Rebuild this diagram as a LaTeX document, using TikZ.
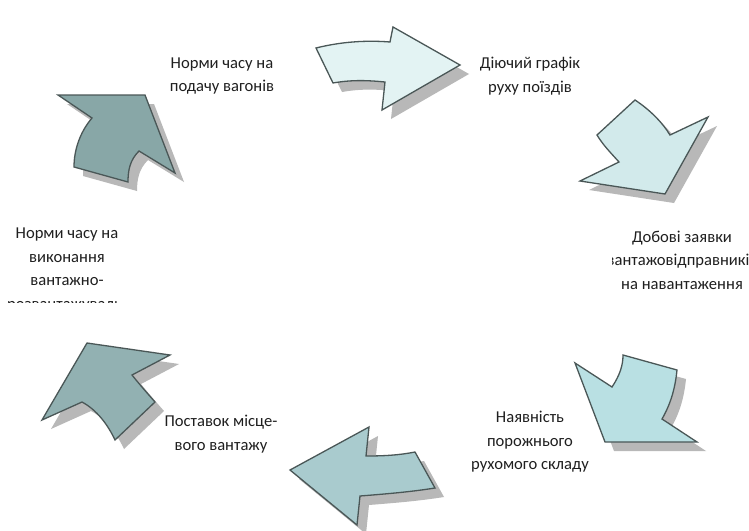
\documentclass[tikz,border=0pt]{standalone}
\usepackage{fontspec}
\setmainfont{Carlito}
\begin{document}
\begin{tikzpicture}[x=1pt,y=-1pt,
  arr/.style={draw=edgec,line width=1.3pt,line join=miter},
  shad/.style={fill=black!28,draw=none},
  lbl/.style={align=center,font=\fontsize{16.6}{23.5}\selectfont,inner sep=0pt,text=black!88}]
\definecolor{edgec}{HTML}{4A5757}
\definecolor{ca}{HTML}{E3F3F3}
\definecolor{cb}{HTML}{D2EAEB}
\definecolor{cc}{HTML}{B9E0E3}
\definecolor{cd}{HTML}{A9CBCE}
\definecolor{ce}{HTML}{92B1B2}
\definecolor{cf}{HTML}{88A7A7}
\useasboundingbox[fill=white] (0,0) rectangle (749,530);
\begin{scope}
\clip (0,0) rectangle (749,530);
\def\pa{(316,48) .. controls (340,42) and (365,40) .. (390,42) -- (393,27) -- (460,65) -- (382,110) -- (385,82) .. controls (365,80) and (350,80) .. (333,83) -- cycle}
\def\pb{(635,100) .. controls (650,110) and (662,122) .. (670,135) -- (708,117) -- (665,194) -- (580,181) -- (619,162) .. controls (610,152) and (603,145) .. (597,135) -- cycle}
\def\pc{(575,363) -- (612,387) .. controls (620,375) and (623,365) .. (623,355) -- (677,370) .. controls (675,390) and (670,405) .. (662,419) -- (697,442) -- (605,442) -- cycle}
\def\pd{(290,470) -- (369,427) -- (366,456) .. controls (385,456) and (400,455) .. (415,452) -- (435,488) .. controls (410,492) and (385,494) .. (360,496) -- (357,525) -- cycle}
\def\pe{(87,343) -- (170,355) -- (132,375) .. controls (140,385) and (148,394) .. (155,402) -- (115,440) .. controls (108,425) and (97,410) .. (82,402) -- (42,420) -- cycle}
\def\pf{(58,95) -- (145,95) -- (175,173) -- (139,151) .. controls (130,160) and (128,170) .. (128,182) -- (74,167) .. controls (74,150) and (80,132) .. (92,118) -- cycle}
\begin{scope}[shift={(9,9)}]
\fill[shad] \pa; \fill[shad] \pb; \fill[shad] \pc;
\fill[shad] \pd; \fill[shad] \pe; \fill[shad] \pf;
\end{scope}
\filldraw[arr,fill=ca] \pa;
\filldraw[arr,fill=cb] \pb;
\filldraw[arr,fill=cc] \pc;
\filldraw[arr,fill=cd] \pd;
\filldraw[arr,fill=ce] \pe;
\filldraw[arr,fill=cf] \pf;
% labels
\node[lbl] (t1) at (222,76) {Норми часу на\\подачу вагонів};
\node[lbl] (t2) at (530,76) {Діючий графік\\руху поїздів};
\begin{scope}
\clip (612,200) rectangle (749,300);
\node[lbl] (t3) at (682,260) {Добові заявки\\вантажовідправників\\на навантаження};
\end{scope}
\node[lbl] (t4) at (530,442) {Наявність\\порожнього\\рухомого складу};
\node[lbl] (t5) at (221,434) {Поставок місце-\\вого вантажу};
\begin{scope}
\clip (0,200) rectangle (200,302);
\node[lbl,anchor=north] (t6) at (67,228) {Норми часу на\\виконання\\вантажно-\\розвантажуваль-};
\end{scope}
\end{scope}
\end{tikzpicture}
\end{document}
